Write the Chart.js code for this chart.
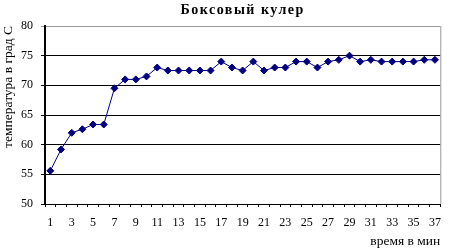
<!DOCTYPE html>
<html><head><meta charset="utf-8">
<script src="https://cdn.jsdelivr.net/npm/chart.js@4/dist/chart.umd.min.js"></script>
<style>html,body{margin:0;padding:0;background:#fff}#c{display:block}</style>
</head><body>
<canvas id="c" width="450" height="250"></canvas>
<script>
const titleText = "Боксовый кулер";
const xTitle = "время в мин";
const yTitle = "температура в град С";
const minutes = [];
for (let i = 1; i <= 37; i++) minutes.push(String(i));
const temps = [55.6, 59.2, 62.0, 62.6, 63.4, 63.4, 69.5, 71.0, 71.0, 71.5,
               73.0, 72.5, 72.5, 72.5, 72.5, 72.5, 74.0, 73.0, 72.5, 74.0,
               72.5, 73.0, 73.0, 74.0, 74.0, 73.0, 74.0, 74.3, 75.0, 74.0,
               74.3, 74.0, 74.0, 74.0, 74.0, 74.3, 74.3];
const yMin = 50, yMax = 80, yStep = 5;

const frame = {
  id: 'frame',
  afterDraw(chart) {
    const {ctx, chartArea: a} = chart;
    ctx.save();
    ctx.strokeStyle = '#9a9a9a';
    ctx.lineWidth = 1;
    ctx.beginPath();
    ctx.moveTo(a.right + 0.5, a.top);
    ctx.lineTo(a.right + 0.5, a.bottom);
    ctx.stroke();
    ctx.fillStyle = '#000';
    ctx.font = 'bold 14px "Liberation Serif"';
    try { ctx.letterSpacing = '1.5px'; } catch (e) {}
    ctx.textAlign = 'center';
    ctx.textBaseline = 'alphabetic';
    ctx.fillText(titleText, (a.left + a.right) / 2, 14);
    ctx.restore();
  }
};

new Chart(document.getElementById('c'), {
  type: 'line',
  data: {
    labels: minutes,
    datasets: [{
      data: temps,
      borderColor: '#000080',
      backgroundColor: '#000080',
      borderWidth: 1,
      pointStyle: 'rectRot',
      pointRadius: 3.5,
      pointHoverRadius: 3.5,
      tension: 0
    }]
  },
  plugins: [frame],
  options: {
    responsive: false,
    animation: false,
    events: [],
    layout: {padding: {left: 0, right: 4, top: 26, bottom: 0}},
    plugins: {legend: {display: false}, tooltip: {enabled: false}, title: {display: false}},
    scales: {
      x: {
        offset: true,
        grid: {offset: true, drawOnChartArea: false, drawTicks: true, tickLength: 3, color: '#000', lineWidth: 1},
        border: {display: true, color: '#000', width: 1},
        ticks: {
          autoSkip: false, maxRotation: 0, padding: 9,
          color: '#000', font: {family: 'Liberation Serif', size: 12},
          callback: function(v, i) { return i % 2 === 0 ? this.getLabelForValue(v) : ''; }
        },
        title: {display: true, text: xTitle, align: 'end', color: '#000',
                font: {family: 'Liberation Serif', size: 13.5}, padding: {top: 0, bottom: 0}},
        afterFit(s) { s.height = 46; }
      },
      y: {
        min: yMin, max: yMax,
        grid: {
          drawTicks: true, tickLength: 4, lineWidth: 1,
          color: (c) => (c.tick && c.tick.value === yMax) ? '#9a9a9a' : '#000'
        },
        border: {display: true, color: '#000', width: 2},
        ticks: {stepSize: yStep, color: '#000', padding: 8, font: {family: 'Liberation Serif', size: 12}},
        title: {display: true, text: yTitle, align: 'end', color: '#000',
                font: {family: 'Liberation Serif', size: 13.5}, padding: {top: 0, bottom: 0}},
        afterFit(s) { s.width = 45; }
      }
    }
  }
});
</script>
</body></html>
